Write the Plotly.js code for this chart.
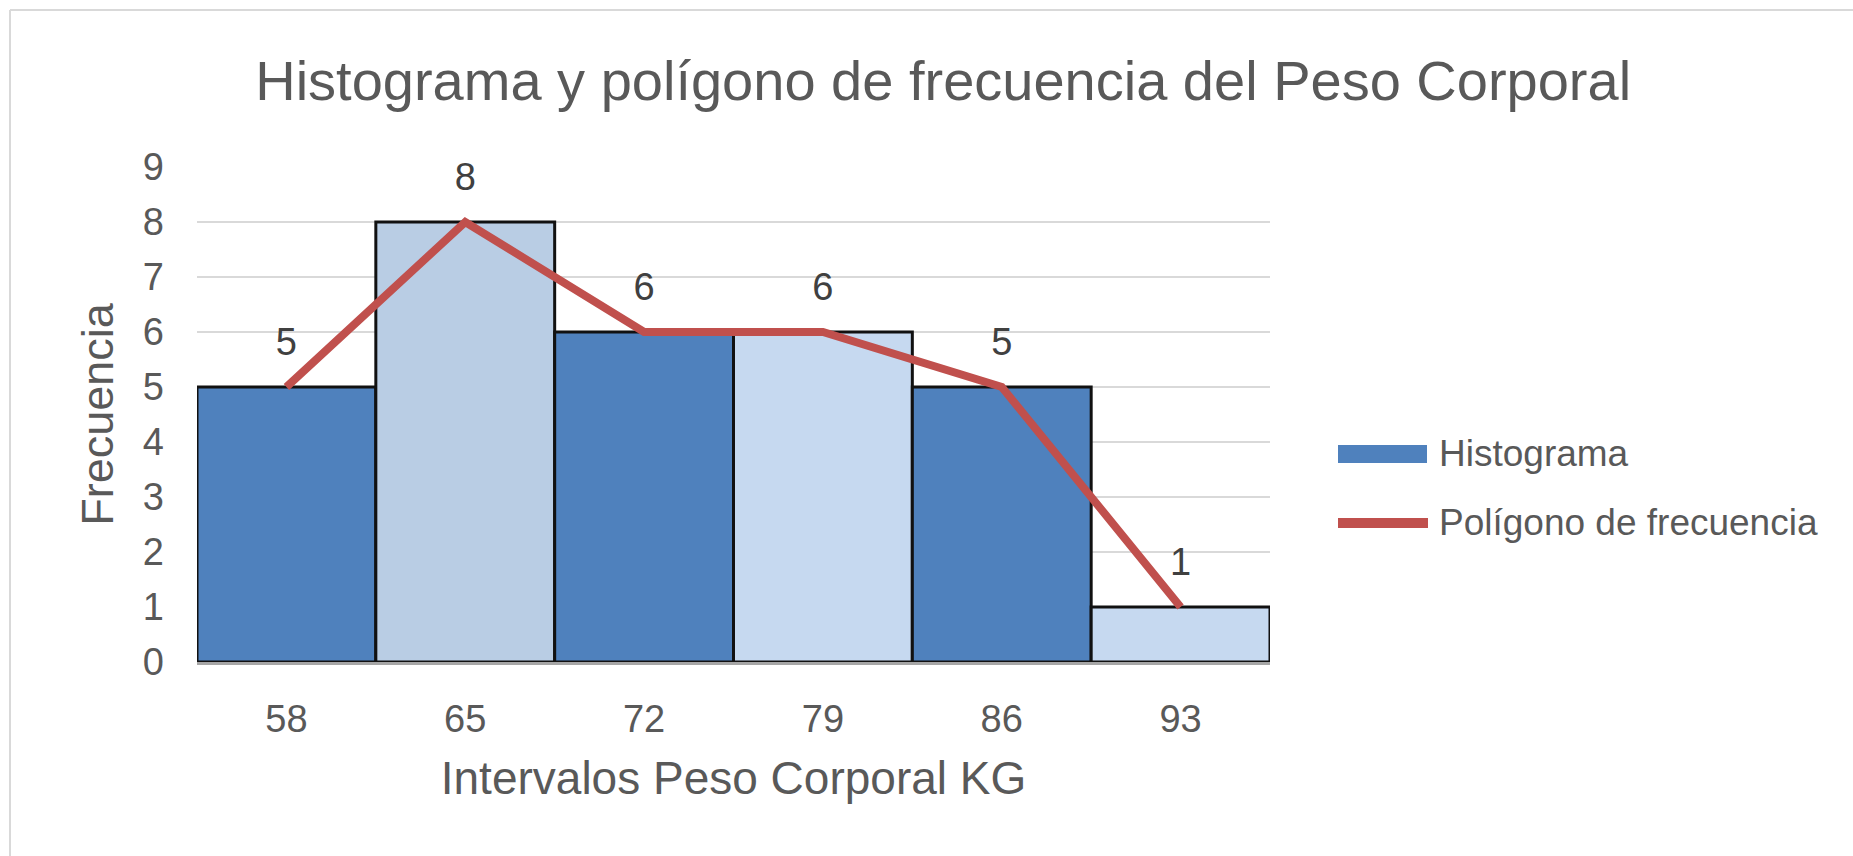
<!DOCTYPE html>
<html>
<head>
<meta charset="utf-8">
<script src="https://cdn.plot.ly/plotly-3.0.1.min.js"></script>
<style>
html,body{margin:0;padding:0;background:#fff;}
#chart{width:1853px;height:856px;}
</style>
</head>
<body>
<div id="chart"></div>
<script>
// ---- data ----
const intervals = ['58', '65', '72', '79', '86', '93'];
const frequencies = [5, 8, 6, 6, 5, 1];
const seriesNames = ['Histograma', 'Polígono de frecuencia'];
const yTicks = [0, 1, 2, 3, 4, 5, 6, 7, 8, 9];

// ---- styles ----
const barColors = ['#4F81BD', '#B9CDE4', '#4F81BD', '#C6D9F0', '#4F81BD', '#C6D9F0'];
const lineColor = '#C0504D';
const textColor = '#595959';
const font = 'Liberation Sans, Arial, sans-serif';

const bars = {
  type: 'bar',
  name: seriesNames[0],
  x: intervals,
  y: frequencies,
  marker: {color: barColors, line: {color: '#111111', width: 3}},
  hoverinfo: 'x+y',
  showlegend: false
};

const poly = {
  type: 'scatter',
  mode: 'lines+markers+text',
  name: seriesNames[1],
  x: intervals,
  y: frequencies,
  text: frequencies.map(String),
  textposition: 'top center',
  textfont: {family: font, size: 38, color: '#404040'},
  line: {color: lineColor, width: 8},
  marker: {size: 34, color: 'rgba(0,0,0,0)'},
  cliponaxis: false,
  showlegend: false
};

// plot area in pixels: x 197..1270, y 167..662
const L = 197, R = 1270, T = 167, B = 662;
const px = v => (v - L) / (R - L);
const py = v => (B - v) / (B - T);

const layout = {
  width: 1853,
  height: 856,
  margin: {l: L, r: 1853 - R, t: T, b: 856 - B},
  paper_bgcolor: '#ffffff',
  plot_bgcolor: '#ffffff',
  font: {family: font, color: textColor},
  bargap: 0,
  showlegend: false,
  title: {
    text: 'Histograma y polígono de frecuencia del Peso Corporal',
    font: {family: font, size: 56, color: textColor},
    x: 0.509, xref: 'container', xanchor: 'center',
    y: 1 - 80 / 856, yref: 'container', yanchor: 'middle'
  },
  xaxis: {
    type: 'category',
    tickvals: intervals,
    ticks: '',
    ticklabelstandoff: 21,
    tickfont: {family: font, size: 38, color: textColor},
    showline: true, linecolor: '#A6A6A6', linewidth: 3,
    showgrid: false, zeroline: false,
    title: {text: 'Intervalos Peso Corporal KG', standoff: 24, font: {family: font, size: 46, color: textColor}}
  },
  yaxis: {
    range: [0, 9],
    tickvals: yTicks,
    ticks: '',
    ticklabelstandoff: 32,
    tickfont: {family: font, size: 38, color: textColor},
    showgrid: true, gridcolor: '#D9D9D9', gridwidth: 2,
    zeroline: false, showline: false,
    title: {text: 'Frecuencia', standoff: 15, font: {family: font, size: 45, color: textColor}}
  },
  shapes: [
    // outer chart border (top and left)
    {type: 'line', xref: 'paper', yref: 'paper', x0: px(10), x1: px(1853), y0: py(10), y1: py(10), line: {color: '#D9D9D9', width: 2}},
    {type: 'line', xref: 'paper', yref: 'paper', x0: px(10), x1: px(10), y0: py(10), y1: py(856), line: {color: '#D9D9D9', width: 2}},
    // legend swatches
    {type: 'rect', xref: 'paper', yref: 'paper', x0: px(1338), x1: px(1427), y0: py(463), y1: py(445), fillcolor: barColors[0], line: {width: 0}},
    {type: 'line', xref: 'paper', yref: 'paper', x0: px(1338), x1: px(1428), y0: py(523), y1: py(523), line: {color: lineColor, width: 10}}
  ],
  annotations: [
    {xref: 'paper', yref: 'paper', x: px(1437), y: py(453), xanchor: 'left', yanchor: 'middle', showarrow: false, text: seriesNames[0], font: {family: font, size: 37, color: textColor}},
    {xref: 'paper', yref: 'paper', x: px(1437), y: py(522), xanchor: 'left', yanchor: 'middle', showarrow: false, text: seriesNames[1], font: {family: font, size: 37, color: textColor}}
  ]
};

Plotly.newPlot('chart', [bars, poly], layout, {displayModeBar: false, staticPlot: true});
</script>
</body>
</html>
